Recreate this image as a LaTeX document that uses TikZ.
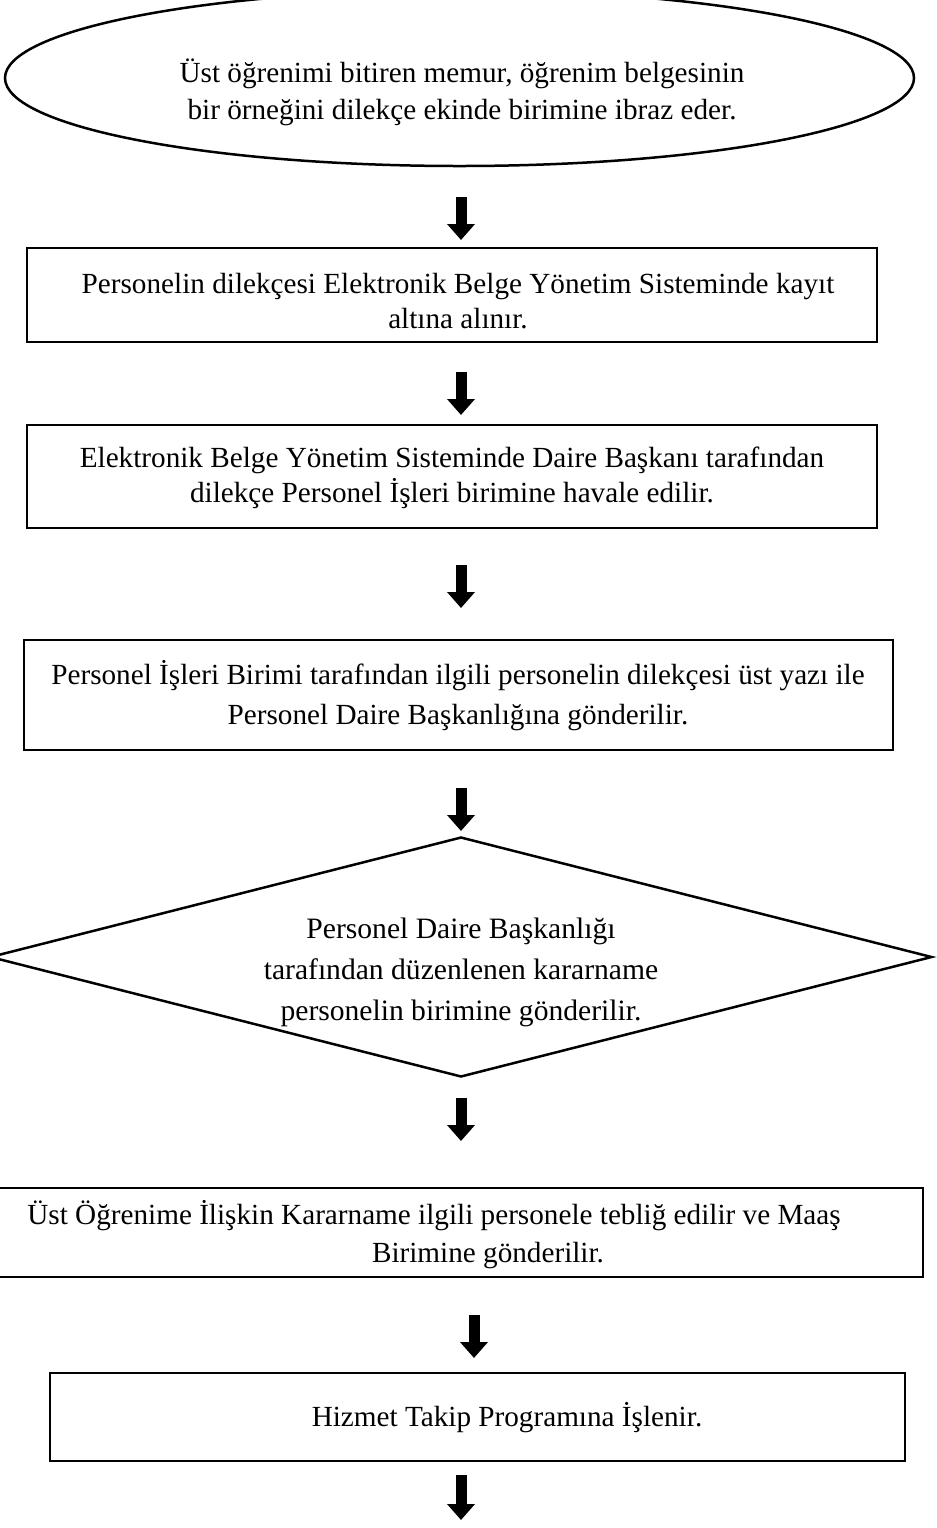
\documentclass[tikz,border=0pt]{standalone}
\usepackage{fontspec}
\setmainfont{Liberation Serif}
\usetikzlibrary{shapes.geometric,arrows.meta}
\begin{document}
\begin{tikzpicture}[x=0.5pt,y=-0.5pt,
  outline/.style={draw=black, line width=1.25pt, inner sep=0pt},
  boxshape/.style={outline, rectangle},
  txt/.style={align=center, inner sep=0pt, font=\fontsize{14.6pt}{17.5pt}\selectfont},
  txtwide/.style={txt, font=\fontsize{14.6pt}{20pt}\selectfont},
  blk/.style={line width=5.5pt, -{Triangle[width=13.5pt,length=8pt]}}]
\fill[white] (0,0) rectangle (937,1528);
\useasboundingbox (0,0) rectangle (937,1528);

% start ellipse
\node[outline, ellipse, minimum width=454.5pt, minimum height=88pt] (start) at (459.5,78) {};
\node[txt, font=\fontsize{14.6pt}{18.5pt}\selectfont] (tstart) at (462,92)
  {Üst öğrenimi bitiren memur, öğrenim belgesinin\\bir örneğini dilekçe ekinde birimine ibraz eder.};

% box 1
\node[boxshape, minimum width=425pt, minimum height=47pt] (b1) at (452,295) {};
\node[txt] (t1) at (458,301)
  {Personelin dilekçesi Elektronik Belge Yönetim Sisteminde kayıt\\altına alınır.};

% box 2
\node[boxshape, minimum width=425pt, minimum height=51.5pt] (b2) at (452,476.5) {};
\node[txt] (t2) at (452,478)
  {Elektronik Belge Yönetim Sisteminde Daire Başkanı tarafından\\dilekçe Personel İşleri birimine havale edilir.};

% box 3
\node[boxshape, minimum width=434.5pt, minimum height=55pt] (b3) at (458.5,695) {};
\node[txtwide] (t3) at (458,696)
  {Personel İşleri Birimi tarafından ilgili personelin dilekçesi üst yazı ile\\Personel Daire Başkanlığına gönderilir.};

% decision diamond
\node[outline, diamond, minimum width=471pt, minimum height=120pt] (d) at (461,957) {};
\node[txt, font=\fontsize{14.8pt}{20.5pt}\selectfont] (td) at (461,972)
  {Personel Daire Başkanlığı\\tarafından düzenlenen kararname\\personelin birimine gönderilir.};

% box 6
\node[boxshape, minimum width=466.5pt, minimum height=44.5pt] (b6) at (456.5,1232.5) {};
\node[txt, anchor=base] (t6a) at (434,1224)
  {Üst Öğrenime İlişkin Kararname ilgili personele tebliğ edilir ve Maaş};
\node[txt, anchor=base] (t6b) at (488,1262) {Birimine gönderilir.};

% box 7
\node[boxshape, minimum width=427.5pt, minimum height=44pt] (b7) at (477.5,1417) {};
\node[txt] (t7) at (507,1418) {Hizmet Takip Programına İşlenir.};

% arrows
\coordinate (a1s) at (461,197);  \coordinate (a1e) at (461,240);
\coordinate (a2s) at (461,372);  \coordinate (a2e) at (461,415);
\coordinate (a3s) at (461,565);  \coordinate (a3e) at (461,608);
\coordinate (a4s) at (461,788);  \coordinate (a4e) at (461,831);
\coordinate (a5s) at (461,1098); \coordinate (a5e) at (461,1141);
\coordinate (a6s) at (474,1315); \coordinate (a6e) at (474,1358);
\coordinate (a7s) at (461,1475); \coordinate (a7e) at (461,1520);
\foreach \i in {1,...,7} \draw[blk] (a\i s) -- (a\i e);
\end{tikzpicture}
\end{document}
